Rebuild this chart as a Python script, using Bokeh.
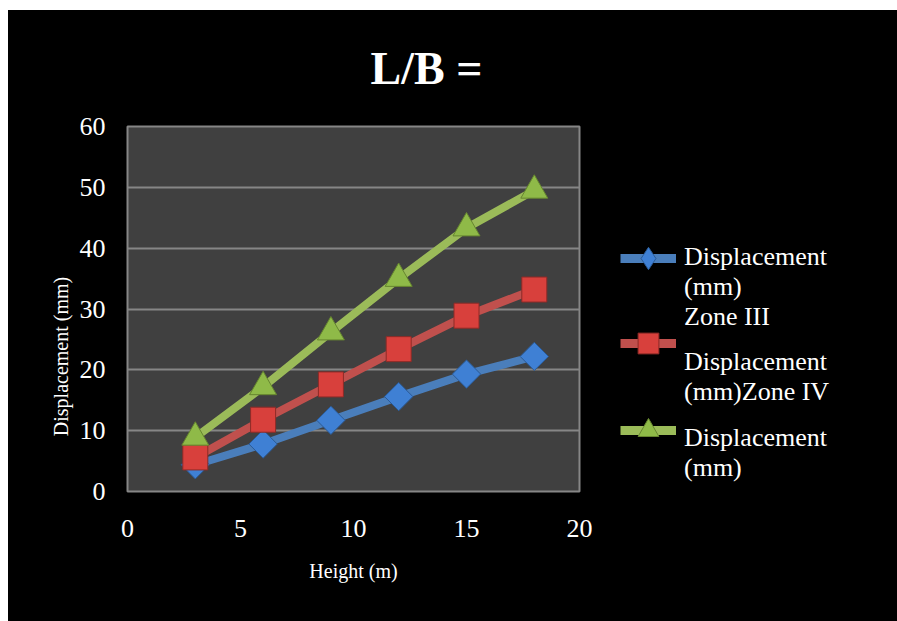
from bokeh.plotting import figure
from bokeh.layouts import row
from bokeh.models import Legend, LegendItem, Range1d
from bokeh.embed import file_html
from bokeh.resources import INLINE
import math

# Displacement vs building height for the three cases
heights = [3, 6, 9, 12, 15, 18]
disp_zone3 = [4.4, 7.8, 11.7, 15.6, 19.3, 22.2]
disp_zone4 = [5.6, 11.8, 17.6, 23.4, 28.9, 33.2]
disp_third = [8.9, 17.2, 26.2, 35.0, 43.3, 49.5]

x_ticks = [0, 5, 10, 15, 20]
y_ticks = [0, 10, 20, 30, 40, 50, 60]

title_text = "L/B ="
x_title = "Height (m)"
y_title = "Displacement (mm)"
legend_lines = [
    ["Displacement", "(mm)", "Zone III"],
    ["Displacement", "(mm)Zone IV"],
    ["Displacement", "(mm)"],
]

FONT = "Liberation Serif"
GRID = "#868686"

# (line colour, marker fill, marker outline, marker, angle, size, key marker, key height)
styles = [
    ("#4a7ebb", "#3f80d4", "#2a5a96", "square", math.pi / 4, 20, "diamond", 58),
    ("#c0504d", "#d8403c", "#8e2a27", "square", 0, 25, "square", 52),
    ("#9bbb59", "#8fba48", "#66862f", "triangle", 0, 27, "triangle", 52),
]
series = [disp_zone3, disp_zone4, disp_third]

p = figure(
    width=600, height=611,
    x_range=Range1d(0, 20), y_range=Range1d(0, 60),
    output_backend="svg", toolbar_location=None,
    min_border_left=119, min_border_right=29,
    min_border_top=116, min_border_bottom=130,
    background_fill_color="#404040", border_fill_color="black",
    outline_line_color=GRID, outline_line_width=2,
)

# title
p.title.text = title_text
p.title.text_font = FONT
p.title.text_font_size = "46px"
p.title.text_font_style = "bold"
p.title.text_color = "white"
p.title.align = "left"
p.title.vertical_align = "top"
p.title.offset = 243
p.title.standoff = 61

# axes
for ax in (p.xaxis[0], p.yaxis[0]):
    ax.axis_line_color = None
    ax.major_tick_in = 0
    ax.major_tick_out = 0
    ax.minor_tick_in = 0
    ax.minor_tick_out = 0
    ax.major_label_text_font = FONT
    ax.major_label_text_font_size = "26px"
    ax.major_label_text_color = "white"
    ax.axis_label_text_font = FONT
    ax.axis_label_text_font_size = "20px"
    ax.axis_label_text_font_style = "normal"
    ax.axis_label_text_color = "white"

p.xaxis.ticker = x_ticks
p.yaxis.ticker = y_ticks
p.xaxis.axis_label = x_title
p.yaxis.axis_label = y_title + "\u00a0" * 19
p.xaxis.major_label_standoff = 28
p.xaxis.axis_label_standoff = 20
p.yaxis.major_label_standoff = 22
p.yaxis.axis_label_standoff = 5

p.xgrid.grid_line_color = None
p.ygrid.ticker = y_ticks
p.ygrid.grid_line_color = GRID
p.ygrid.grid_line_width = 2

for ys, (lc, fc, oc, marker, ang, sz, _, _) in zip(series, styles):
    p.line(heights, ys, line_color=lc, line_width=8)
    p.scatter(heights, ys, marker=marker, angle=ang, size=sz,
              fill_color=fc, line_color=oc, line_width=1)

# legend panel: a bare figure holding the key (its frame lines up with the plot's)
lg = figure(
    width=289, height=611,
    x_range=Range1d(0, 289), y_range=Range1d(0, 611),
    output_backend="svg", toolbar_location=None,
    x_axis_location=None, y_axis_location=None,
    min_border=0, background_fill_color="black", border_fill_color="black",
    outline_line_color=None,
)
lg.grid.visible = False

# key glyphs: one small legend per series, centred on its row
glyph_centres = [233, 148, 61]  # distance of each key row above the frame bottom
for ys, (lc, fc, oc, _, _, sz, key_marker, key_h), cy in zip(series, styles, glyph_centres):
    lr = lg.line(heights, ys, line_color=lc, line_width=9, visible=False)
    sr = lg.scatter(heights, ys, marker=key_marker, size=sz,
                    fill_color=fc, line_color=oc, line_width=1, visible=False)
    lg.add_layout(Legend(
        items=[LegendItem(label=" ", renderers=[lr, sr])], location=(12, cy - key_h // 2),
        glyph_width=56, glyph_height=key_h, label_standoff=0, label_width=0,
        padding=0, margin=0, spacing=0, border_line_color=None,
        background_fill_alpha=0, label_text_font_size="1px"))

text_locs = [(76, 159), (76, 84), (76, 8)]
row_h = [29, 30, 30]
for lines, loc, h in zip(legend_lines, text_locs, row_h):
    lg.add_layout(Legend(
        items=[LegendItem(label=t, renderers=[]) for t in lines], location=loc,
        glyph_width=0, glyph_height=h, label_height=h, label_standoff=0,
        padding=0, margin=0, spacing=0, border_line_color=None,
        background_fill_alpha=0, label_text_font=FONT,
        label_text_font_size="26px", label_text_color="white"))

layout = row(p, lg, spacing=0)
layout.margin = (10, 0, 0, 8)
layout.styles = {"background-color": "black"}

open("out.html", "w").write(file_html(layout, INLINE))
